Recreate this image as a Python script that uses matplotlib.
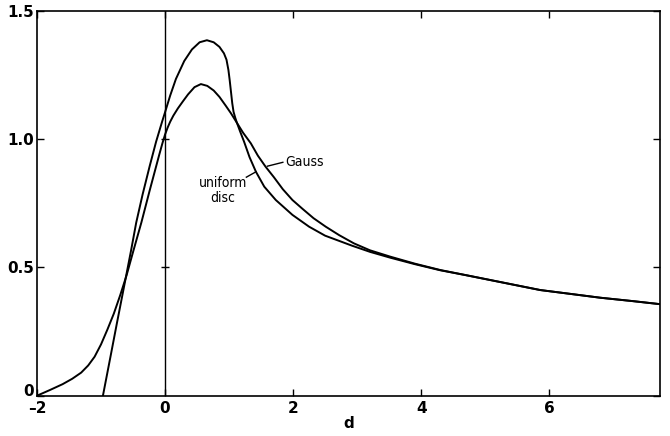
import matplotlib
matplotlib.use('Agg')
import matplotlib.pyplot as plt
import matplotlib.transforms as mtransforms

gauss_d = [-2.0, -1.8, -1.6, -1.45, -1.31, -1.2, -1.1, -1.0, -0.9, -0.8,
           -0.7, -0.6, -0.5, -0.37, -0.24, -0.09, -0.04, 0.0, 0.04, 0.08,
           0.13, 0.2, 0.28, 0.36, 0.46, 0.56, 0.66, 0.76, 0.85, 0.95,
           1.03, 1.12, 1.22, 1.34, 1.45, 1.57, 1.7, 1.84, 1.99, 2.15,
           2.32, 2.51, 2.72, 2.95, 3.2, 3.52, 3.9, 4.3, 4.7, 5.08,
           5.5, 5.86, 6.3, 6.8, 7.3, 7.73]
gauss_v = [0.0, 0.022, 0.045, 0.066, 0.09, 0.118, 0.152, 0.2, 0.258, 0.32,
           0.392, 0.47, 0.56, 0.675, 0.80, 0.94, 0.985, 1.018, 1.045, 1.068,
           1.092, 1.12, 1.148, 1.175, 1.203, 1.215, 1.208, 1.19, 1.165, 1.13,
           1.101, 1.065, 1.025, 0.984, 0.936, 0.893, 0.852, 0.805, 0.763, 0.728,
           0.692, 0.659, 0.626, 0.594, 0.567, 0.542, 0.515, 0.49, 0.47, 0.451,
           0.43, 0.412, 0.398, 0.382, 0.369, 0.357]

disc_d = [-0.97, -0.85, -0.75, -0.66, -0.53, -0.45, -0.35, -0.24, -0.14, -0.05,
          0.0, 0.08, 0.17, 0.3, 0.42, 0.54, 0.654, 0.76, 0.85, 0.92,
          0.96, 0.99, 1.01, 1.03, 1.05, 1.07, 1.095, 1.12, 1.17, 1.235,
          1.32, 1.42, 1.55, 1.73, 1.99, 2.25, 2.5, 2.92, 3.2, 3.52,
          3.9, 4.3, 4.7, 5.08, 5.5, 5.86, 6.3, 6.8, 7.3, 7.73]
disc_v = [0.0, 0.155, 0.285, 0.40, 0.567, 0.675, 0.785, 0.895, 0.99, 1.065,
          1.105, 1.17, 1.235, 1.305, 1.35, 1.378, 1.386, 1.378, 1.36, 1.335,
          1.31, 1.27, 1.23, 1.185, 1.14, 1.107, 1.085, 1.066, 1.032, 0.99,
          0.93, 0.873, 0.815, 0.763, 0.705, 0.659, 0.624, 0.585, 0.561, 0.538,
          0.513, 0.489, 0.47, 0.451, 0.43, 0.412, 0.398, 0.382, 0.369, 0.357]

x_ticks = [-2, 0, 2, 4, 6]
x_tick_labels = ['\u20132', '0', '2', '4', '6']
y_ticks = [0, 0.5, 1.0, 1.5]
y_tick_labels = ['0', '0.5', '1.0', '1.5']

plt.rcParams['font.family'] = ['DejaVu Sans']

fig = plt.figure(figsize=(6.7, 4.36), dpi=100)
ax = fig.add_axes([0.0552, 0.0924, 0.9298, 0.8824])

ax.plot(gauss_d, gauss_v, color='black', lw=1.4, solid_joinstyle='round')
ax.plot(disc_d, disc_v, color='black', lw=1.4, solid_joinstyle='round')

# vertical reference line at d = 0 with small marks
ax.axvline(0, color='black', lw=1.0)
ax.plot([0, 0], [0.5, 1.0], linestyle='none', marker='_', ms=6, mew=1.0, color='black')

# curve labels with short leader lines
ax.plot([1.60, 1.84], [0.895, 0.910], color='black', lw=1.0)
ax.text(1.88, 0.912, 'Gauss', fontsize=10, fontstretch='condensed', ha='left', va='center')
ax.plot([1.42, 1.27], [0.873, 0.852], color='black', lw=1.0)
ax.text(0.90, 0.80, 'uniform\ndisc', fontsize=10, fontstretch='condensed',
        ha='center', va='center', linespacing=1.05)

ax.set_xlim(-2, 7.73)
ax.set_ylim(0, 1.5)
ax.set_xticks(x_ticks)
ax.set_xticklabels(x_tick_labels, fontsize=11, fontweight='bold')
ax.set_yticks(y_ticks)
ax.set_yticklabels(y_tick_labels, fontsize=11, fontweight='bold')
ax.tick_params(direction='in', length=5, width=1.0, top=True, right=True, pad=2)
ax.tick_params(axis='x', pad=4)
ax.set_xlabel('d', fontsize=11, fontweight='bold', labelpad=0)

# lift the "0" on the y axis clear of the "-2" below it
zero_lbl = ax.get_yticklabels()[0]
zero_lbl.set_transform(zero_lbl.get_transform() +
                       mtransforms.ScaledTranslation(0, 4 / 72, fig.dpi_scale_trans))

for s in ax.spines.values():
    s.set_linewidth(1.2)

fig.savefig('out.png', dpi=100)
